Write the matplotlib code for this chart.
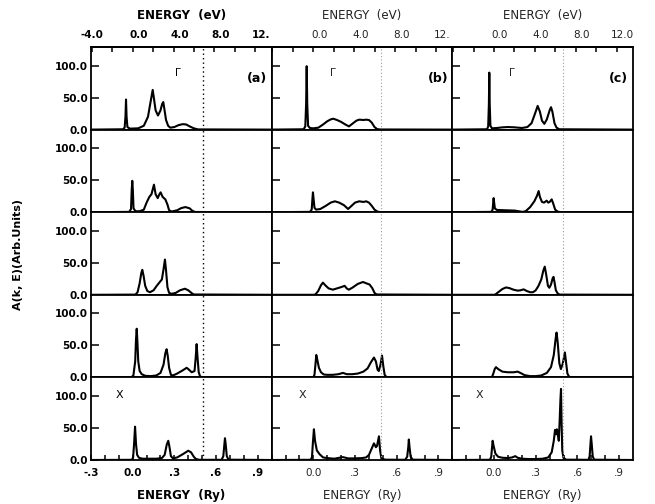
import matplotlib.pyplot as plt
import matplotlib.transforms as mtransforms
import numpy as np

# A(k,E) curves as (E [Ry], A) pairs; rows run from Gamma (top) to X (bottom),
# columns are the three cases (a), (b), (c)
a1 = [(-0.3, 0), (-0.07, 0.5), (-0.058, 3), (-0.052, 20), (-0.048, 47), (-0.044, 20),
      (-0.038, 4), (-0.02, 1.5), (0.04, 2), (0.08, 6), (0.11, 20), (0.13, 45), (0.144, 62),
      (0.152, 50), (0.165, 30), (0.182, 22), (0.20, 30), (0.212, 40), (0.220, 43),
      (0.228, 32), (0.24, 15), (0.255, 6), (0.27, 3), (0.30, 4), (0.33, 7), (0.36, 8.5),
      (0.385, 8), (0.41, 5), (0.44, 2), (0.47, 0.3), (1.0, 0)]
b1 = [(-0.3, 0), (-0.07, 0.5), (-0.058, 5), (-0.052, 40), (-0.048, 99), (-0.044, 40),
      (-0.038, 6), (-0.025, 2.5), (0.0, 2), (0.036, 3), (0.07, 8), (0.10, 13), (0.125, 16),
      (0.144, 17), (0.17, 15), (0.20, 12), (0.23, 8), (0.256, 5), (0.28, 9), (0.31, 14),
      (0.33, 15.5), (0.36, 15), (0.38, 15.5), (0.40, 15), (0.42, 11), (0.44, 4),
      (0.459, 0.8), (0.48, 0.2), (1.0, 0)]
c1 = [(-0.3, 0), (-0.05, 0.5), (-0.042, 5), (-0.037, 40), (-0.034, 89), (-0.031, 40),
      (-0.026, 6), (-0.015, 2), (0.02, 2.5), (0.06, 3.5), (0.10, 4), (0.15, 3.5), (0.20, 2.5),
      (0.24, 4), (0.27, 10), (0.295, 25), (0.314, 37), (0.33, 28), (0.345, 14), (0.362, 9),
      (0.38, 16), (0.40, 30), (0.41, 35), (0.42, 28), (0.435, 10), (0.45, 3), (0.47, 0.5),
      (1.0, 0)]

a2 = [(-0.3, 0), (-0.025, 0.5), (-0.012, 5), (-0.007, 35), (-0.003, 49), (0.001, 35),
      (0.006, 6), (0.02, 1.5), (0.05, 1.5), (0.08, 4), (0.10, 15), (0.12, 24), (0.135, 28),
      (0.153, 43), (0.165, 28), (0.18, 22), (0.192, 28), (0.201, 31), (0.215, 24),
      (0.235, 20), (0.25, 12), (0.262, 3), (0.28, 1), (0.32, 3), (0.35, 6.5), (0.38, 8),
      (0.41, 6), (0.43, 2), (0.45, 0.3), (1.0, 0)]
b2 = [(-0.3, 0), (-0.025, 0.5), (-0.012, 4), (-0.007, 20), (-0.003, 31), (0.002, 20),
      (0.008, 7), (0.02, 4), (0.05, 5), (0.09, 10), (0.125, 15), (0.155, 17), (0.185, 15),
      (0.22, 11), (0.25, 5), (0.275, 10), (0.30, 15), (0.33, 17), (0.36, 16), (0.38, 17),
      (0.40, 15), (0.42, 10), (0.44, 4), (0.46, 1), (0.48, 0.2), (1.0, 0)]
c2 = [(-0.3, 0), (-0.02, 0.5), (-0.01, 4), (-0.006, 15), (-0.003, 22), (0.001, 15),
      (0.006, 6), (0.02, 3.5), (0.08, 3), (0.15, 2.5), (0.19, 1), (0.21, 0.5), (0.23, 2),
      (0.26, 8), (0.29, 17), (0.31, 26), (0.321, 33), (0.33, 24), (0.345, 16), (0.36, 15),
      (0.379, 18), (0.39, 15), (0.40, 16), (0.415, 20), (0.425, 14), (0.44, 4),
      (0.458, 0.8), (0.48, 0.2), (1.0, 0)]

a3 = [(-0.3, 0), (0.02, 0.3), (0.035, 4), (0.05, 18), (0.062, 34), (0.069, 39), (0.078, 30),
      (0.09, 14), (0.105, 6), (0.124, 4), (0.15, 7), (0.173, 14), (0.195, 20), (0.21, 24),
      (0.222, 40), (0.232, 55), (0.24, 38), (0.25, 12), (0.262, 3), (0.28, 1.5), (0.31, 3),
      (0.34, 7), (0.376, 9.5), (0.40, 7), (0.425, 2.5), (0.44, 0.5), (1.0, 0)]
b3 = [(-0.3, 0), (0.0, 0), (0.015, 0.5), (0.035, 6), (0.055, 15), (0.069, 19), (0.085, 15),
      (0.11, 10), (0.14, 8), (0.17, 10), (0.20, 12), (0.225, 14), (0.24, 10), (0.255, 8),
      (0.28, 11), (0.32, 17), (0.357, 20), (0.38, 18), (0.405, 16), (0.425, 10), (0.44, 3),
      (0.455, 0.5), (1.0, 0)]
c3 = [(-0.3, 0), (0.0, 0), (0.01, 0.5), (0.03, 4), (0.06, 9), (0.086, 11.5), (0.11, 10.5),
      (0.14, 8), (0.17, 6.5), (0.19, 7), (0.213, 8.5), (0.235, 6), (0.26, 4), (0.28, 4),
      (0.30, 7), (0.32, 14), (0.34, 24), (0.355, 38), (0.365, 44), (0.375, 32), (0.388, 14),
      (0.398, 11), (0.41, 16), (0.422, 26), (0.428, 28), (0.435, 20), (0.445, 7),
      (0.46, 1.5), (0.475, 0.3), (1.0, 0)]

a4 = [(-0.3, 0), (-0.01, 0.3), (0.005, 3), (0.018, 25), (0.024, 60), (0.029, 76),
      (0.034, 55), (0.04, 25), (0.05, 10), (0.065, 5), (0.09, 2.5), (0.13, 2), (0.17, 3),
      (0.20, 7), (0.222, 20), (0.235, 38), (0.244, 44), (0.252, 34), (0.262, 15), (0.275, 4),
      (0.29, 3), (0.32, 6), (0.36, 11), (0.388, 15), (0.40, 13), (0.425, 8), (0.445, 10),
      (0.453, 30), (0.46, 52), (0.467, 30), (0.475, 8), (0.485, 1.5), (0.50, 0.3), (1.0, 0)]
b4 = [(-0.3, 0), (0.0, 0.3), (0.008, 4), (0.015, 20), (0.021, 35), (0.028, 28), (0.04, 15),
      (0.055, 8), (0.075, 4.5), (0.10, 4), (0.14, 4), (0.18, 5), (0.213, 7), (0.24, 5),
      (0.28, 5), (0.32, 6), (0.36, 9), (0.39, 14), (0.415, 24), (0.436, 31), (0.45, 25),
      (0.462, 12), (0.471, 10), (0.483, 20), (0.494, 34), (0.503, 18), (0.513, 4),
      (0.525, 0.8), (0.54, 0.2), (1.0, 0)]
c4 = [(-0.3, 0), (-0.015, 0.3), (-0.005, 6), (0.005, 13), (0.014, 16), (0.03, 13),
      (0.06, 9), (0.10, 8), (0.14, 8), (0.17, 9), (0.19, 7), (0.22, 3.5), (0.26, 2),
      (0.30, 2), (0.34, 3), (0.38, 7), (0.41, 16), (0.43, 35), (0.443, 60), (0.45, 70),
      (0.458, 55), (0.47, 22), (0.481, 13), (0.495, 22), (0.51, 39), (0.518, 24),
      (0.528, 6), (0.54, 1), (0.56, 0.2), (1.0, 0)]

a5 = [(-0.3, 0), (-0.005, 0.3), (0.003, 4), (0.01, 25), (0.017, 52), (0.024, 25),
      (0.032, 8), (0.045, 3.5), (0.07, 2), (0.12, 2), (0.17, 2), (0.21, 3), (0.23, 8),
      (0.245, 24), (0.256, 30), (0.265, 20), (0.275, 6), (0.29, 2.5), (0.32, 4), (0.36, 9),
      (0.40, 14.5), (0.42, 12), (0.44, 5), (0.455, 1.5), (0.48, 0.3), (0.64, 0.3),
      (0.652, 6), (0.66, 25), (0.664, 34), (0.669, 25), (0.677, 6), (0.69, 0.5), (1.0, 0)]
b5 = [(-0.3, 0), (-0.02, 0.3), (-0.01, 4), (-0.004, 25), (0.004, 48), (0.012, 30),
      (0.025, 15), (0.045, 9), (0.07, 4), (0.10, 3), (0.15, 2), (0.213, 4.5), (0.25, 2.5),
      (0.30, 2.5), (0.35, 3), (0.38, 4), (0.40, 8), (0.42, 18), (0.436, 26), (0.45, 20),
      (0.458, 22), (0.472, 37), (0.48, 15), (0.49, 2), (0.52, 0.5), (0.66, 0.3),
      (0.675, 5), (0.683, 20), (0.687, 32), (0.692, 20), (0.70, 5), (0.715, 0.5), (1.0, 0)]
c5 = [(-0.3, 0), (-0.03, 0.3), (-0.02, 5), (-0.015, 18), (-0.01, 30), (-0.003, 22),
      (0.01, 10), (0.03, 5), (0.06, 3.5), (0.10, 3), (0.13, 4), (0.153, 6), (0.17, 3.5),
      (0.20, 2), (0.25, 1.5), (0.30, 1.5), (0.35, 2), (0.39, 4), (0.415, 12), (0.43, 30),
      (0.439, 47), (0.446, 40), (0.452, 48), (0.458, 42), (0.466, 30), (0.472, 60),
      (0.478, 95), (0.482, 111), (0.486, 60), (0.491, 15), (0.50, 3), (0.52, 0.5),
      (0.68, 0.3), (0.688, 6), (0.694, 25), (0.698, 37), (0.703, 25), (0.71, 6),
      (0.72, 0.5), (1.0, 0)]

curves = [[a1, b1, c1], [a2, b2, c2], [a3, b3, c3], [a4, b4, c4], [a5, b5, c5]]

fermi = [0.505, 0.49, 0.495]          # Ry, dotted line in each column
panel_tags = ['(a)', '(b)', '(c)']
ry_major = [-0.3, 0.0, 0.3, 0.6, 0.9]
ry_minor = [-0.2, -0.1, 0.1, 0.2, 0.4, 0.5, 0.7, 0.8]
ry_labels = [['-.3', '0.0', '.3', '.6', '.9'],
             ['', '0.0', '.3', '.6', '.9'],
             ['', '0.0', '.3', '.6', '.9']]
ev_ticks = [-4, -2, 0, 2, 4, 6, 8, 10, 12]
ev_labels = [['-4.0', '', '0.0', '', '4.0', '', '8.0', '', '12.'],
             ['', '', '0.0', '', '4.0', '', '8.0', '', '12.'],
             ['', '', '0.0', '', '4.0', '', '8.0', '', '12.0']]
a_ticks = [0, 50, 100]
a_labels = ['0.0', '50.0', '100.0']
RY = 13.6

fig, axes = plt.subplots(5, 3, figsize=(6.55, 5.04), dpi=100)
fig.subplots_adjust(left=91/655, right=633/655, top=1-47/504, bottom=1-460/504,
                    hspace=0, wspace=0)

# eV labels sit a little to the right of their ticks
shift = mtransforms.ScaledTranslation(6/100, 0, fig.dpi_scale_trans)

for i in range(5):
    for j in range(3):
        ax = axes[i, j]
        weight = 'bold' if j == 0 else 'normal'
        tcol = 'black' if j == 0 else '#222222'
        e, a = np.array(curves[i][j]).T
        ax.plot(e, a, color='black', lw=1.5, solid_joinstyle='round')
        if j == 0:
            ax.axvline(fermi[j], color='black', lw=1.0, ls=(0, (1, 2.2)))
        else:
            ax.axvline(fermi[j], color='#9a9a9a', lw=0.8, ls=(0, (1, 2)))
        ax.set_xlim(-0.3, 1.0)
        ax.set_ylim(0, 129)
        for s in ax.spines.values():
            s.set_linewidth(1.3)

        ax.set_yticks(a_ticks)
        ax.tick_params(axis='y', direction='in', length=6, width=1.1, pad=2,
                       labelleft=(j == 0))
        if j == 0:
            ax.set_yticklabels(a_labels, fontsize=7.5, fontweight='bold')

        if i == 4:
            ax.set_xticks(ry_major, ry_labels[j], fontsize=7.5,
                          fontweight=weight, color=tcol)
            ax.set_xticks(ry_minor, minor=True)
            ax.tick_params(axis='x', which='both', direction='in', length=3.5,
                           width=1.1, pad=6)
            fig.text((ax.get_position().x0 + ax.get_position().x1) / 2, 1 - 496/504,
                     'ENERGY  (Ry)', ha='center', va='center', fontsize=8.5,
                     fontweight=weight, color=tcol)
        else:
            ax.set_xticks([])

        if i == 0:
            sec = ax.secondary_xaxis('top', functions=(lambda x: x * RY, lambda v: v / RY))
            sec.set_xticks(ev_ticks, ev_labels[j], fontsize=7.5,
                           fontweight=weight, color=tcol)
            sec.tick_params(direction='in', length=3.5, width=1.1, pad=5)
            sec.spines['top'].set_linewidth(1.3)
            for lab in sec.get_xticklabels():
                if lab.get_text() not in ('', '-4.0'):
                    lab.set_transform(lab.get_transform() + shift)
            fig.text((ax.get_position().x0 + ax.get_position().x1) / 2, 1 - 16/504,
                     'ENERGY  (eV)', ha='center', va='center', fontsize=8.5,
                     fontweight=weight, color=tcol)
            ax.text(0.92, 0.62, panel_tags[j], transform=ax.transAxes, ha='center',
                    va='center', fontsize=9, fontweight='bold')
            ax.text([0.48, 0.34, 0.33][j], 0.69, '\u0393', transform=ax.transAxes,
                    ha='center', va='center', fontsize=7.5, color=tcol)
        if i == 4:
            ax.text([0.16, 0.17, 0.15][j], 0.79, 'X', transform=ax.transAxes,
                    ha='center', va='center', fontsize=8, color=tcol)

fig.text(18/655, 1 - 255/504, 'A(k, E)(Arb.Units)', rotation=90, ha='center',
         va='center', fontsize=8, fontweight='bold')

fig.savefig('out.png', dpi=100)
